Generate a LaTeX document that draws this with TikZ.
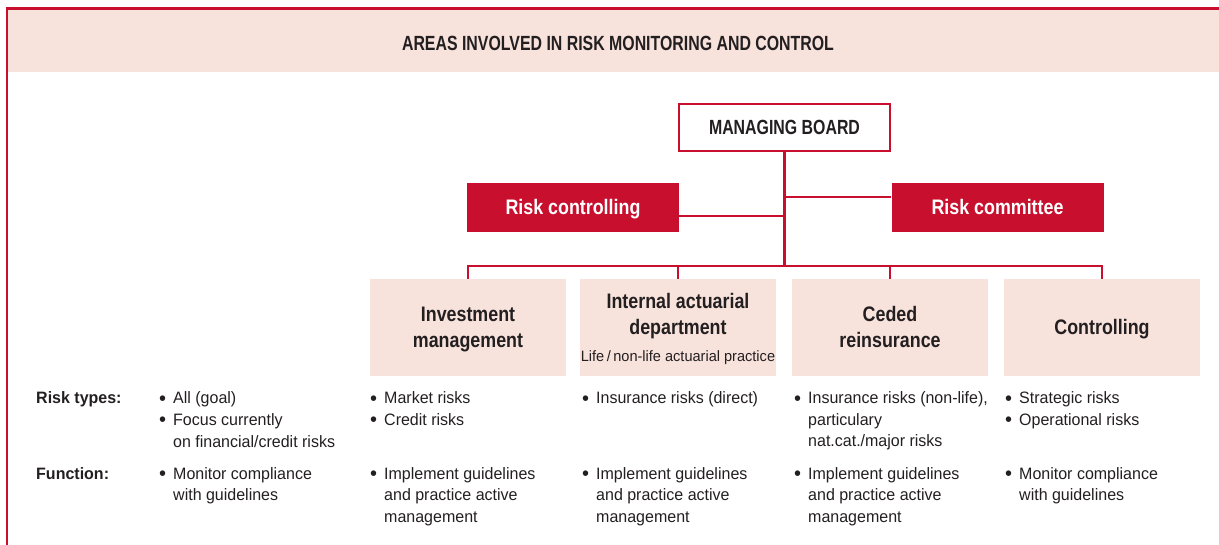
\documentclass[tikz,border=0pt]{standalone}
\usepackage{fontspec}
\newfontfamily\bodyf{Liberation Sans}[FakeStretch=0.97]
\newfontfamily\headf{Liberation Sans}[FakeStretch=0.85]
\newfontfamily\titlef{Liberation Sans}[FakeStretch=0.775]
\definecolor{hred}{RGB}{200,16,46}
\definecolor{hpink}{RGB}{247,226,220}
\definecolor{htext}{RGB}{35,31,32}
\newcommand{\bul}{\makebox[14pt][l]{\raisebox{-1.4pt}{\scalebox{1.25}{•}}}}
\newcommand{\ind}{\hspace*{14pt}}
\newcommand{\itemlines}[1]{\parbox[t]{230pt}{\raggedright #1}}
\tikzset{
  conn/.style={draw=hred, line width=2.2pt, line join=miter},
  redbox/.style={fill=hred, text=white, minimum width=212pt, minimum height=49pt, inner sep=0pt,
    text height=15pt, text depth=0pt,
    font=\headf\bfseries\fontsize{21}{26}\selectfont},
  pinkbox/.style={fill=hpink, minimum width=196pt, minimum height=97pt, inner sep=0pt},
  boxhead/.style={anchor=base, align=center, inner sep=0pt, text=htext, font=\headf\bfseries\fontsize{21}{26}\selectfont},
  lst/.style={anchor=base west, inner sep=0pt, text=htext, font=\bodyf\fontsize{16.5}{21.5}\selectfont},
  lbl/.style={lst, font=\bodyf\bfseries\fontsize{16.5}{21.5}\selectfont},
  caps/.style={inner sep=0pt, text=htext, font=\titlef\bfseries\fontsize{20.5}{24}\selectfont},
}
\begin{document}
\begin{tikzpicture}[x=1pt,y=-1pt]
\useasboundingbox (0,0) rectangle (1219,545);
\fill[hpink] (8,10) rectangle (1219,72);
\draw[hred, line width=2.8pt, line join=miter] (7,545) -- (7,8.5) -- (1219,8.5);
\node[caps] (title) at (618,43) {AREAS INVOLVED IN RISK MONITORING AND CONTROL};

% managing board and staff units
\node[caps, draw=hred, line width=2.2pt, fill=white, minimum width=211pt, minimum height=47pt] (mb) at (784.5,127.5) {MANAGING BOARD};
\node[redbox] (rcon) at (573,207.5) {Risk controlling};
\node[redbox] (rcom) at (997.5,207.5) {Risk committee};

% departments
\node[pinkbox] (inv) at (468,327.5) {};
\node[pinkbox] (act) at (678,327.5) {};
\node[pinkbox] (ced) at (890,327.5) {};
\node[pinkbox] (ctl) at (1102,327.5) {};
\node[boxhead] (invh) at (468,348) {Investment\\management};
\node[boxhead] (acth) at (678,335) {Internal actuarial\\department};
\node[anchor=base, inner sep=0pt, text=htext, font=\bodyf\fontsize{15}{18}\selectfont] (acts) at (678,362) {Life\,/\,non-life actuarial practice};
\node[boxhead] (cedh) at (890,348) {Ceded\\reinsurance};
\node[boxhead] (ctlh) at (1102,335) {Controlling};

% connectors
\coordinate (bus) at (784.5,266);
\coordinate (jcom) at (784.5,197);
\coordinate (jcon) at (784.5,216);
\draw[conn] (mb.south) -- (bus);
\draw[conn] (jcom) -- (jcom -| rcom.west);
\draw[conn] (jcon) -- (jcon -| rcon.east);
\draw[conn] (inv.north) -- (inv.north |- bus) -- (ctl.north |- bus) -- (ctl.north);
\draw[conn] (act.north) -- (act.north |- bus);
\draw[conn] (ced.north) -- (ced.north |- bus);

% table
\node[lbl] (lrt) at (36,404) {Risk types:};
\node[lbl] (lfn) at (36,479) {Function:};
\node[lst] (r1) at (159,404) {\itemlines{\bul All (goal)\\\bul Focus currently\\\ind on financial/credit risks}};
\node[lst] (r2) at (370,404) {\itemlines{\bul Market risks\\\bul Credit risks}};
\node[lst] (r3) at (582,404) {\itemlines{\bul Insurance risks (direct)}};
\node[lst] (r4) at (794,404) {\itemlines{\bul Insurance risks (non-life),\\\ind particulary\\\ind nat.cat./major risks}};
\node[lst] (r5) at (1005,404) {\itemlines{\bul Strategic risks\\\bul Operational risks}};
\node[lst] (f1) at (159,479) {\itemlines{\bul Monitor compliance\\\ind with guidelines}};
\node[lst] (f2) at (370,479) {\itemlines{\bul Implement guidelines\\\ind and practice active\\\ind management}};
\node[lst] (f3) at (582,479) {\itemlines{\bul Implement guidelines\\\ind and practice active\\\ind management}};
\node[lst] (f4) at (794,479) {\itemlines{\bul Implement guidelines\\\ind and practice active\\\ind management}};
\node[lst] (f5) at (1005,479) {\itemlines{\bul Monitor compliance\\\ind with guidelines}};
\end{tikzpicture}
\end{document}
